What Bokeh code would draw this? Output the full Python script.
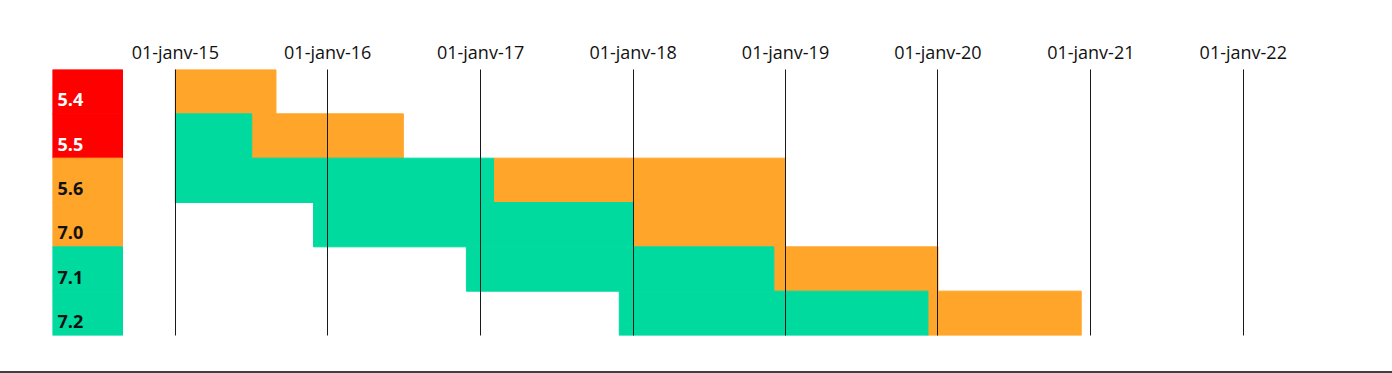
import pandas as pd
from bokeh.plotting import figure
from bokeh.models import FixedTicker, Range1d, ColumnDataSource, Div
from bokeh.layouts import column
from bokeh.core.properties import value
from bokeh.embed import file_html
from bokeh.resources import INLINE

# ---- data ----
versions = ["5.4", "5.5", "5.6", "7.0", "7.1", "7.2"]
active_start = [None, "2015-01-01", "2015-01-01", "2015-11-28", "2016-11-28", "2017-11-29"]
active_end = [None, "2015-07-03", "2017-02-01", "2018-01-01", "2018-12-04", "2019-12-08"]
security_start = ["2015-01-01", "2015-07-03", "2017-02-01", "2018-01-01", "2018-12-04", "2019-12-08"]
security_end = ["2015-08-30", "2016-06-30", "2019-01-01", "2019-01-01", "2020-01-01", "2020-12-09"]
label_colors = ["#FF0000", "#FF0000", "#FFA52A", "#FFA52A", "#00DA9F", "#00DA9F"]
label_text_colors = ["#FFFFFF", "#FFFFFF", "#111111", "#111111", "#111111", "#111111"]
tick_dates = ["2015-01-01", "2016-01-01", "2017-01-01", "2018-01-01",
              "2019-01-01", "2020-01-01", "2021-01-01", "2022-01-01"]
tick_labels = ["01-janv-15", "01-janv-16", "01-janv-17", "01-janv-18",
               "01-janv-19", "01-janv-20", "01-janv-21", "01-janv-22"]
x_start, x_end = "2014-03-13", "2022-05-18"

GREEN = "#00DA9F"
ORANGE = "#FFA52A"


def ms(d):
    return int((pd.Timestamp(d) - pd.Timestamp("1970-01-01")) // pd.Timedelta("1ms"))


W, H = 1376, 371
BL, BR, BT, BB = 52, 76, 69, 36

p = figure(width=W, height=H, x_axis_type="datetime", x_axis_location="above",
           y_axis_location=None, y_range=versions[::-1],
           x_range=Range1d(ms(x_start), ms(x_end)),
           output_backend="svg", toolbar_location=None,
           min_border_left=BL, min_border_right=BR, min_border_top=BT, min_border_bottom=BB,
           outline_line_color=None, background_fill_color="white", border_fill_color="white")

# security (orange) bars
sec = ColumnDataSource(dict(y=versions,
                            left=[ms(d) for d in security_start],
                            right=[ms(d) for d in security_end]))
p.hbar(y="y", left="left", right="right", height=1.0, source=sec,
       fill_color=ORANGE, line_color=ORANGE, line_width=1)

# active (green) bars
rows = [i for i, s in enumerate(active_start) if s is not None]
act = ColumnDataSource(dict(y=[versions[i] for i in rows],
                            left=[ms(active_start[i]) for i in rows],
                            right=[ms(active_end[i]) for i in rows]))
p.hbar(y="y", left="left", right="right", height=1.0, source=act,
       fill_color=GREEN, line_color=GREEN, line_width=1)

# label column on the left (extra pixel-like range)
frame_w = W - BL - BR
p.extra_x_ranges = {"lab": Range1d(0, frame_w)}
lab = ColumnDataSource(dict(y=versions, c=label_colors, tc=label_text_colors))
p.hbar(y="y", left=0, right=70, height=1.0, source=lab, x_range_name="lab",
       fill_color="c", line_color="c", line_width=1)
p.text(x=5, y="y", text="y", source=lab, x_range_name="lab",
       text_color="tc", text_font=value("Open Sans"), text_font_style="bold",
       text_font_size="18px", text_baseline="middle", text_align="left", y_offset=8)

# axis on top
ticks = [ms(d) for d in tick_dates]
ticker = FixedTicker(ticks=ticks)
ax = p.xaxis[0]
ax.ticker = ticker
ax.major_label_overrides = {t: l for t, l in zip(ticks, tick_labels)}
ax.axis_line_color = None
ax.major_tick_line_color = None
ax.minor_tick_line_color = None
ax.major_tick_out = 0
ax.major_tick_in = 0
ax.major_label_standoff = 6
ax.major_label_text_font = "Open Sans"
ax.major_label_text_font_size = "18px"
ax.major_label_text_color = "#111111"

# vertical year lines drawn over bars
p.xgrid.ticker = ticker
p.xgrid.grid_line_color = "#1a1a1a"
p.xgrid.grid_line_width = 1
p.xgrid.level = "overlay"
p.ygrid.visible = False

# thin separator line at the bottom of the picture
sep = Div(text="", width=1392, height=2, margin=0,
          styles={"background-color": "#3f3f3f"})

layout = column(p, sep, spacing=0)
open("out.html", "w").write(file_html(layout, INLINE))
